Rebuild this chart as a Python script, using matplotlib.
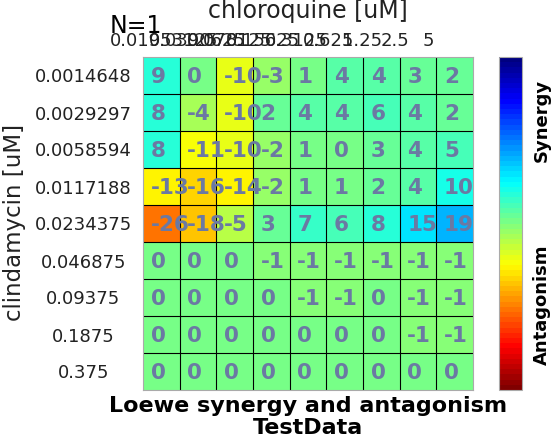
import matplotlib
matplotlib.use("Agg")
import matplotlib.pyplot as plt
from matplotlib.colors import LinearSegmentedColormap
import numpy as np

# concentrations
chloroquine = ['0.01953125', '0.0390625', '0.078125', '0.15625', '0.3125',
               '0.625', '1.25', '2.5', '5']
clindamycin = ['0.0014648', '0.0029297', '0.0058594', '0.0117188', '0.0234375',
               '0.046875', '0.09375', '0.1875', '0.375']

# Loewe scores, one list per clindamycin row
row1 = [9, 0, -10, -3, 1, 4, 4, 3, 2]
row2 = [8, -4, -10, 2, 4, 4, 6, 4, 2]
row3 = [8, -11, -10, -2, 1, 0, 3, 4, 5]
row4 = [-13, -16, -14, -2, 1, 1, 2, 4, 10]
row5 = [-26, -18, -5, 3, 7, 6, 8, 15, 19]
row6 = [0, 0, 0, -1, -1, -1, -1, -1, -1]
row7 = [0, 0, 0, 0, -1, -1, 0, -1, -1]
row8 = [0, 0, 0, 0, 0, 0, 0, -1, -1]
row9 = [0, 0, 0, 0, 0, 0, 0, 0, 0]

scores = np.array([row1, row2, row3, row4, row5, row6, row7, row8, row9], dtype=float)

# matlab style jet, 64 steps, reversed so synergy (positive) is blue
jet_m = LinearSegmentedColormap('jet_m', {
    'red':   [(0, 0, 0), (0.375, 0, 0), (0.625, 1, 1), (0.875, 1, 1), (1, 0.5, 0.5)],
    'green': [(0, 0, 0), (0.125, 0, 0), (0.375, 1, 1), (0.625, 1, 1), (0.875, 0, 0), (1, 0, 0)],
    'blue':  [(0, 0.5, 0.5), (0.125, 1, 1), (0.375, 1, 1), (0.625, 0, 0), (1, 0, 0)],
}, N=64).reversed()

fig = plt.figure(figsize=(5.52, 4.37), dpi=100)
W, H = 552, 437
ax = fig.add_axes([143 / W, 1 - 390 / H, 330 / W, 333 / H])
cax = fig.add_axes([499 / W, 1 - 390 / H, 23 / W, 333 / H])

im = ax.imshow(scores, cmap=jet_m, vmin=-50, vmax=50, aspect='auto')

nr, nc = scores.shape
for k in range(nc - 1):
    ax.axvline(k + 0.5, color='black', lw=0.8)
for k in range(nr - 1):
    ax.axhline(k + 0.5, color='black', lw=0.8)

for i in range(nr):
    for j in range(nc):
        ax.text(j - 0.29, i + 0.04, f'{int(scores[i, j])}', ha='left', va='center',
                fontsize=15.5, fontweight='bold', color='#6b79a3')

# x ticks on top (labels overlap like the original)
ax.xaxis.tick_top()
ax.set_xticks(np.linspace(0.07, 7.27, nc))
ax.set_xticklabels(chloroquine, fontsize=13, color='#222222')
ax.tick_params(axis='x', length=0, pad=5)

ax.set_yticks(range(nr))
ax.set_yticklabels(clindamycin, fontsize=13, color='#222222', ha='center')
ax.tick_params(axis='y', length=0, pad=43)

for s in ax.spines.values():
    s.set_color('#aaaaaa')

fig.text(15 / W, 1 - 222 / H, 'clindamycin [uM]', fontsize=16.5, color='#222222',
         rotation=90, ha='center', va='center')
fig.text(308 / W, 1 - 18 / H, 'chloroquine [uM]', fontsize=17, color='#222222',
         ha='center', va='baseline')
fig.text(110 / W, 1 - 33 / H, 'N=1', fontsize=17, color='black', ha='left', va='baseline')

fig.text(308 / W, 1 - 412 / H, 'Loewe synergy and antagonism', fontsize=16,
         fontweight='bold', ha='center', va='baseline')
fig.text(308 / W, 1 - 434 / H, 'TestData', fontsize=16,
         fontweight='bold', ha='center', va='baseline')

cb = fig.colorbar(im, cax=cax)
cb.set_ticks([])
cb.outline.set_edgecolor('#aaaaaa')
fig.text(542 / W, 1 - 120 / H, 'Synergy', rotation=90, fontsize=13, fontweight='bold',
         ha='center', va='center')
fig.text(542 / W, 1 - 305 / H, 'Antagonism', rotation=90, fontsize=13, fontweight='bold',
         ha='center', va='center')

fig.savefig('out.png', dpi=100)
